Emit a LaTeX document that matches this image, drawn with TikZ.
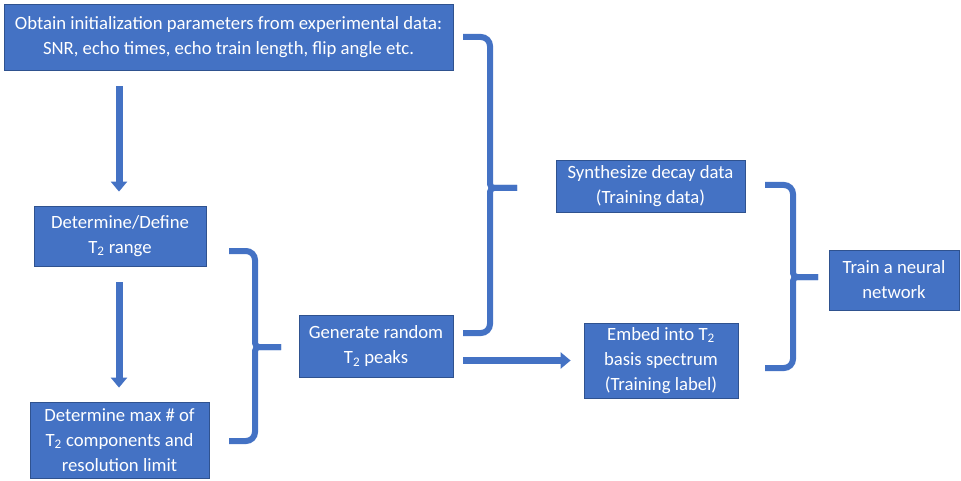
\documentclass[tikz,border=0pt]{standalone}
\usepackage{fontspec}
\setmainfont{Carlito}
\usetikzlibrary{arrows.meta, positioning, calc}
\definecolor{boxblue}{HTML}{4472C4}
\definecolor{edgeblue}{HTML}{2F528F}
\tikzset{
    stepbox/.style={fill=boxblue, draw=edgeblue, line width=0.8pt, text=white,
      align=center, inner sep=0pt, font=\fontsize{18.7}{25}\selectfont},
    bigarrow/.style={draw=boxblue, line width=7pt,
      -{Triangle[width=16pt, length=10pt]}},
    bracket/.style={draw=boxblue, line width=6pt}
}
% right curly brace: top tip, bottom tip, spine x, point
\newcommand{\rbracket}[4]{%
  \draw[bracket] (#1) [rounded corners=9pt] -- (#1 -| #3)
    [rounded corners=4pt] -- (#3 |- #4) [sharp corners] -- (#4);
  \draw[bracket] (#2) [rounded corners=9pt] -- (#2 -| #3)
    [rounded corners=4pt] -- (#3 |- #4) [sharp corners] -- (#4);
}

\begin{document}
\begin{tikzpicture}[x=1pt, y=-1pt]
  \useasboundingbox (0,0) rectangle (961,481);

  \node [stepbox, minimum width=449pt, minimum height=66pt] (params) at (228.5,37)
    {Obtain initialization parameters from experimental data:\\SNR, echo times, echo train length, flip angle etc.};
  \node [stepbox, minimum width=172pt, minimum height=60pt] (range) at (120,236)
    {Determine/Define\\T\textsubscript{2} range};
  \node [stepbox, minimum width=179pt, minimum height=76pt] (maxcomp) at (119.5,440)
    {Determine max \# of\\T\textsubscript{2} components and\\resolution limit};
  \node [stepbox, minimum width=154pt, minimum height=62pt] (peaks) at (376,346)
    {Generate random\\T\textsubscript{2} peaks};
  \node [stepbox, minimum width=189pt, minimum height=52pt] (decay) at (650.5,186)
    {Synthesize decay data\\(Training data)};
  \node [stepbox, minimum width=154pt, minimum height=75pt] (embed) at (661,360.5)
    {Embed into T\textsubscript{2}\\basis spectrum\\(Training label)};
  \node [stepbox, minimum width=130pt, minimum height=60pt] (train) at (894,280)
    {Train a neural\\network};

  % arrows
  \draw [bigarrow] ($(range.north |- params.south)+(-1,16)$) -- ($(range.north)+(-1,-14)$);
  \draw [bigarrow] ($(range.south)+(-1,16)$) -- ($(range.south |- maxcomp.north)+(-1,-14)$);
  \draw [bigarrow] ($(peaks.east |- embed.west)+(10,0)$) -- ($(embed.west)+(-13,0)$);

  % braces
  \coordinate (b1top) at (229,251);
  \coordinate (b1bot) at (229,441);
  \coordinate (b1spine) at (255,0);
  \coordinate (b1tip) at (281,347);
  \rbracket{b1top}{b1bot}{b1spine}{b1tip}

  \coordinate (b2top) at (463,37);
  \coordinate (b2bot) at (463,333);
  \coordinate (b2spine) at (490,0);
  \coordinate (b2tip) at (517,188);
  \rbracket{b2top}{b2bot}{b2spine}{b2tip}

  \coordinate (b3top) at (765,185);
  \coordinate (b3bot) at (765,368);
  \coordinate (b3spine) at (793,0);
  \coordinate (b3tip) at (818,277);
  \rbracket{b3top}{b3bot}{b3spine}{b3tip}
\end{tikzpicture}
\end{document}
